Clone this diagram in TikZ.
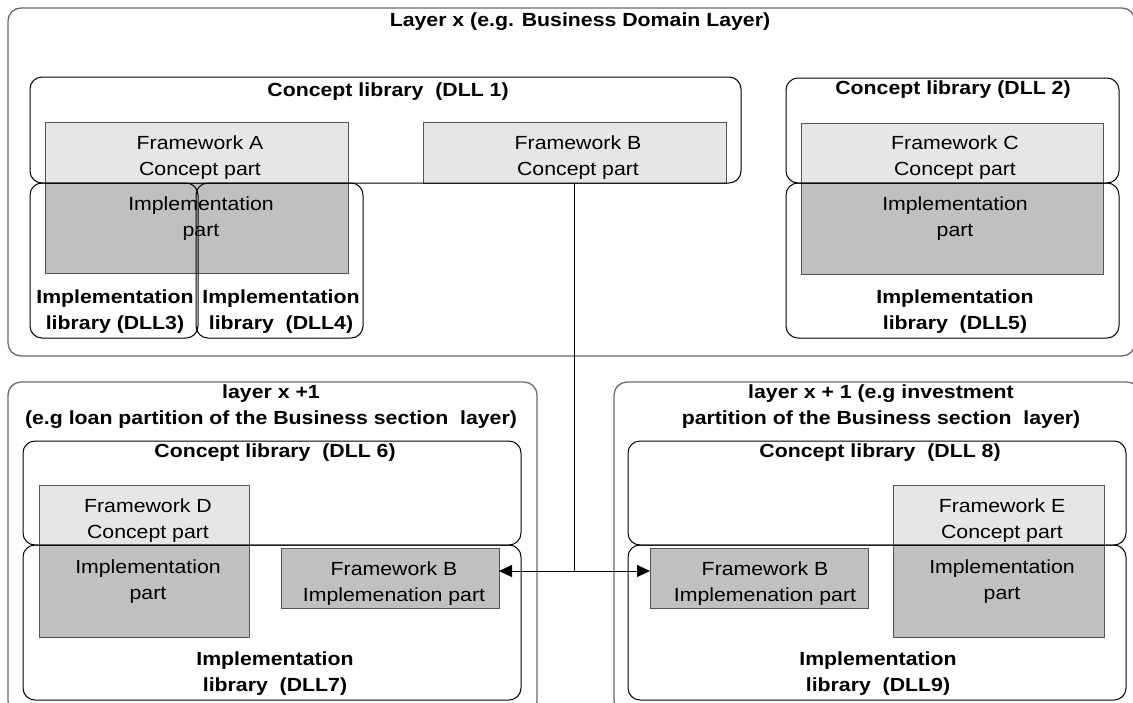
\documentclass[tikz,border=0pt]{standalone}
\usepackage{fontspec}
\setmainfont{Liberation Sans}[FakeStretch=1.12]
\usetikzlibrary{arrows.meta,fit}
\definecolor{conceptfill}{HTML}{E6E6E6}
\definecolor{implfill}{HTML}{C0C0C0}
\definecolor{outerline}{HTML}{6A6A6A}
\definecolor{partline}{HTML}{555555}
\begin{document}
\begin{tikzpicture}[x=1pt,y=-1pt,
  outerbox/.style={draw=outerline, line width=1.3pt, rounded corners=13pt, inner sep=0pt, outer sep=0pt},
  libbox/.style={draw=black, line width=1pt, rounded corners=12pt, inner sep=0pt, outer sep=0pt},
  conceptbox/.style={draw=partline, fill=conceptfill, line width=1pt, inner sep=0pt, outer sep=0pt},
  implbox/.style={draw=partline, fill=implfill, line width=1pt, inner sep=0pt, outer sep=0pt},
  txt/.style={align=center, inner sep=0pt, font=\fontsize{19}{26}\selectfont},
  btxt/.style={align=center, inner sep=0pt, font=\fontsize{19}{26}\selectfont\bfseries},
  link/.style={draw=black, line width=1pt},
  tip/.style={-{Triangle[length=13pt,width=12pt]}}
]
\useasboundingbox (0,0) rectangle (1133,702);
\clip (0,0) rectangle (1133,702);

% ---------------- Layer x ----------------
\node[outerbox, fit={(8,8)(1135,356)}] (L1) {};
\node[btxt] (L1t) at (580,22) {Layer x (e.g. Business Domain Layer)};

% grey parts first
\node[conceptbox, fit={(45,122)(348,183)}] (FAc) {};
\node[implbox, fit={(45,183)(348,273)}] (FAi) {};
\node[conceptbox, fit={(423,122)(726,183)}] (FBc) {};
\node[conceptbox, fit={(801,123)(1103,183)}] (FCc) {};
\node[implbox, fit={(801,183)(1103,274)}] (FCi) {};

\node[txt] (FAct) at (200,158) {Framework A\\Concept part};
\node[txt] (FAit) at (201,219) {Implementation\\part};
\node[txt] (FBct) at (578,158) {Framework B\\Concept part};
\node[txt] (FCct) at (955,158) {Framework C\\Concept part};
\node[txt] (FCit) at (955,219) {Implementation\\part};

% library boxes
\node[libbox, fit={(30,77)(741,183)}] (DLL1) {};
\node[btxt] (DLL1t) at (388,92) {Concept library~~(DLL 1)};
\node[libbox, fit={(30,183)(198,338)}] (DLL3) {};
\node[btxt] (DLL3t) at (115,312) {Implementation\\library (DLL3)};
\node[libbox, fit={(196,183)(363,338)}] (DLL4) {};
\node[btxt] (DLL4t) at (281,312) {Implementation\\library~~(DLL4)};
\node[libbox, fit={(786,78)(1119,183)}] (DLL2) {};
\node[btxt] (DLL2t) at (953,90) {Concept library (DLL 2)};
\node[libbox, fit={(786,183)(1119,338)}] (DLL5) {};
\node[btxt] (DLL5t) at (955,312) {Implementation\\library~~(DLL5)};

% ---------------- Layer x+1 (left) ----------------
\node[outerbox, fit={(8,382)(537,714)}] (L2a) {};
\node[btxt] (L2at) at (271,407) {layer x +1\\(e.g loan partition of the Business section~~layer)};
\node[conceptbox, fit={(39,485)(249,545)}] (FDc) {};
\node[implbox, fit={(39,545)(249,637)}] (FDi) {};
\node[implbox, fit={(281,548)(499,608)}] (FBl) {};
\node[txt] (FDct) at (148,521) {Framework D\\Concept part};
\node[txt] (FDit) at (148,582) {Implementation\\part};
\node[txt] (FBlt) at (394,584) {Framework B\\Implemenation part};
\node[libbox, fit={(23,441)(521,545)}] (DLL6) {};
\node[btxt] (DLL6t) at (275,453) {Concept library~~(DLL 6)};
\node[libbox, fit={(23,545)(521,700)}] (DLL7) {};
\node[btxt] (DLL7t) at (275,674) {Implementation\\library~~(DLL7)};

% ---------------- Layer x+1 (right) ----------------
\node[outerbox, fit={(614,382)(1140,714)}] (L2b) {};
\node[btxt] (L2bt) at (881,407) {layer x + 1 (e.g investment\\partition of the Business section~~layer)};
\node[conceptbox, fit={(893,485)(1104,545)}] (FEc) {};
\node[implbox, fit={(893,545)(1104,637)}] (FEi) {};
\node[implbox, fit={(650,548)(868,608)}] (FBr) {};
\node[txt] (FEct) at (1002,521) {Framework E\\Concept part};
\node[txt] (FEit) at (1002,582) {Implementation\\part};
\node[txt] (FBrt) at (765,584) {Framework B\\Implemenation part};
\node[libbox, fit={(628,441)(1126,545)}] (DLL8) {};
\node[btxt] (DLL8t) at (880,453) {Concept library~~(DLL 8)};
\node[libbox, fit={(628,545)(1126,700)}] (DLL9) {};
\node[btxt] (DLL9t) at (878,674) {Implementation\\library~~(DLL9)};

% ---------------- connectors ----------------
\coordinate (J) at (FBc.south |- 0,571);
\draw[link] (FBc.south) -- (J);
\draw[link, tip] (J) -- (J -| FBl.east);
\draw[link, tip] (J) -- (J -| FBr.west);
\end{tikzpicture}
\end{document}
